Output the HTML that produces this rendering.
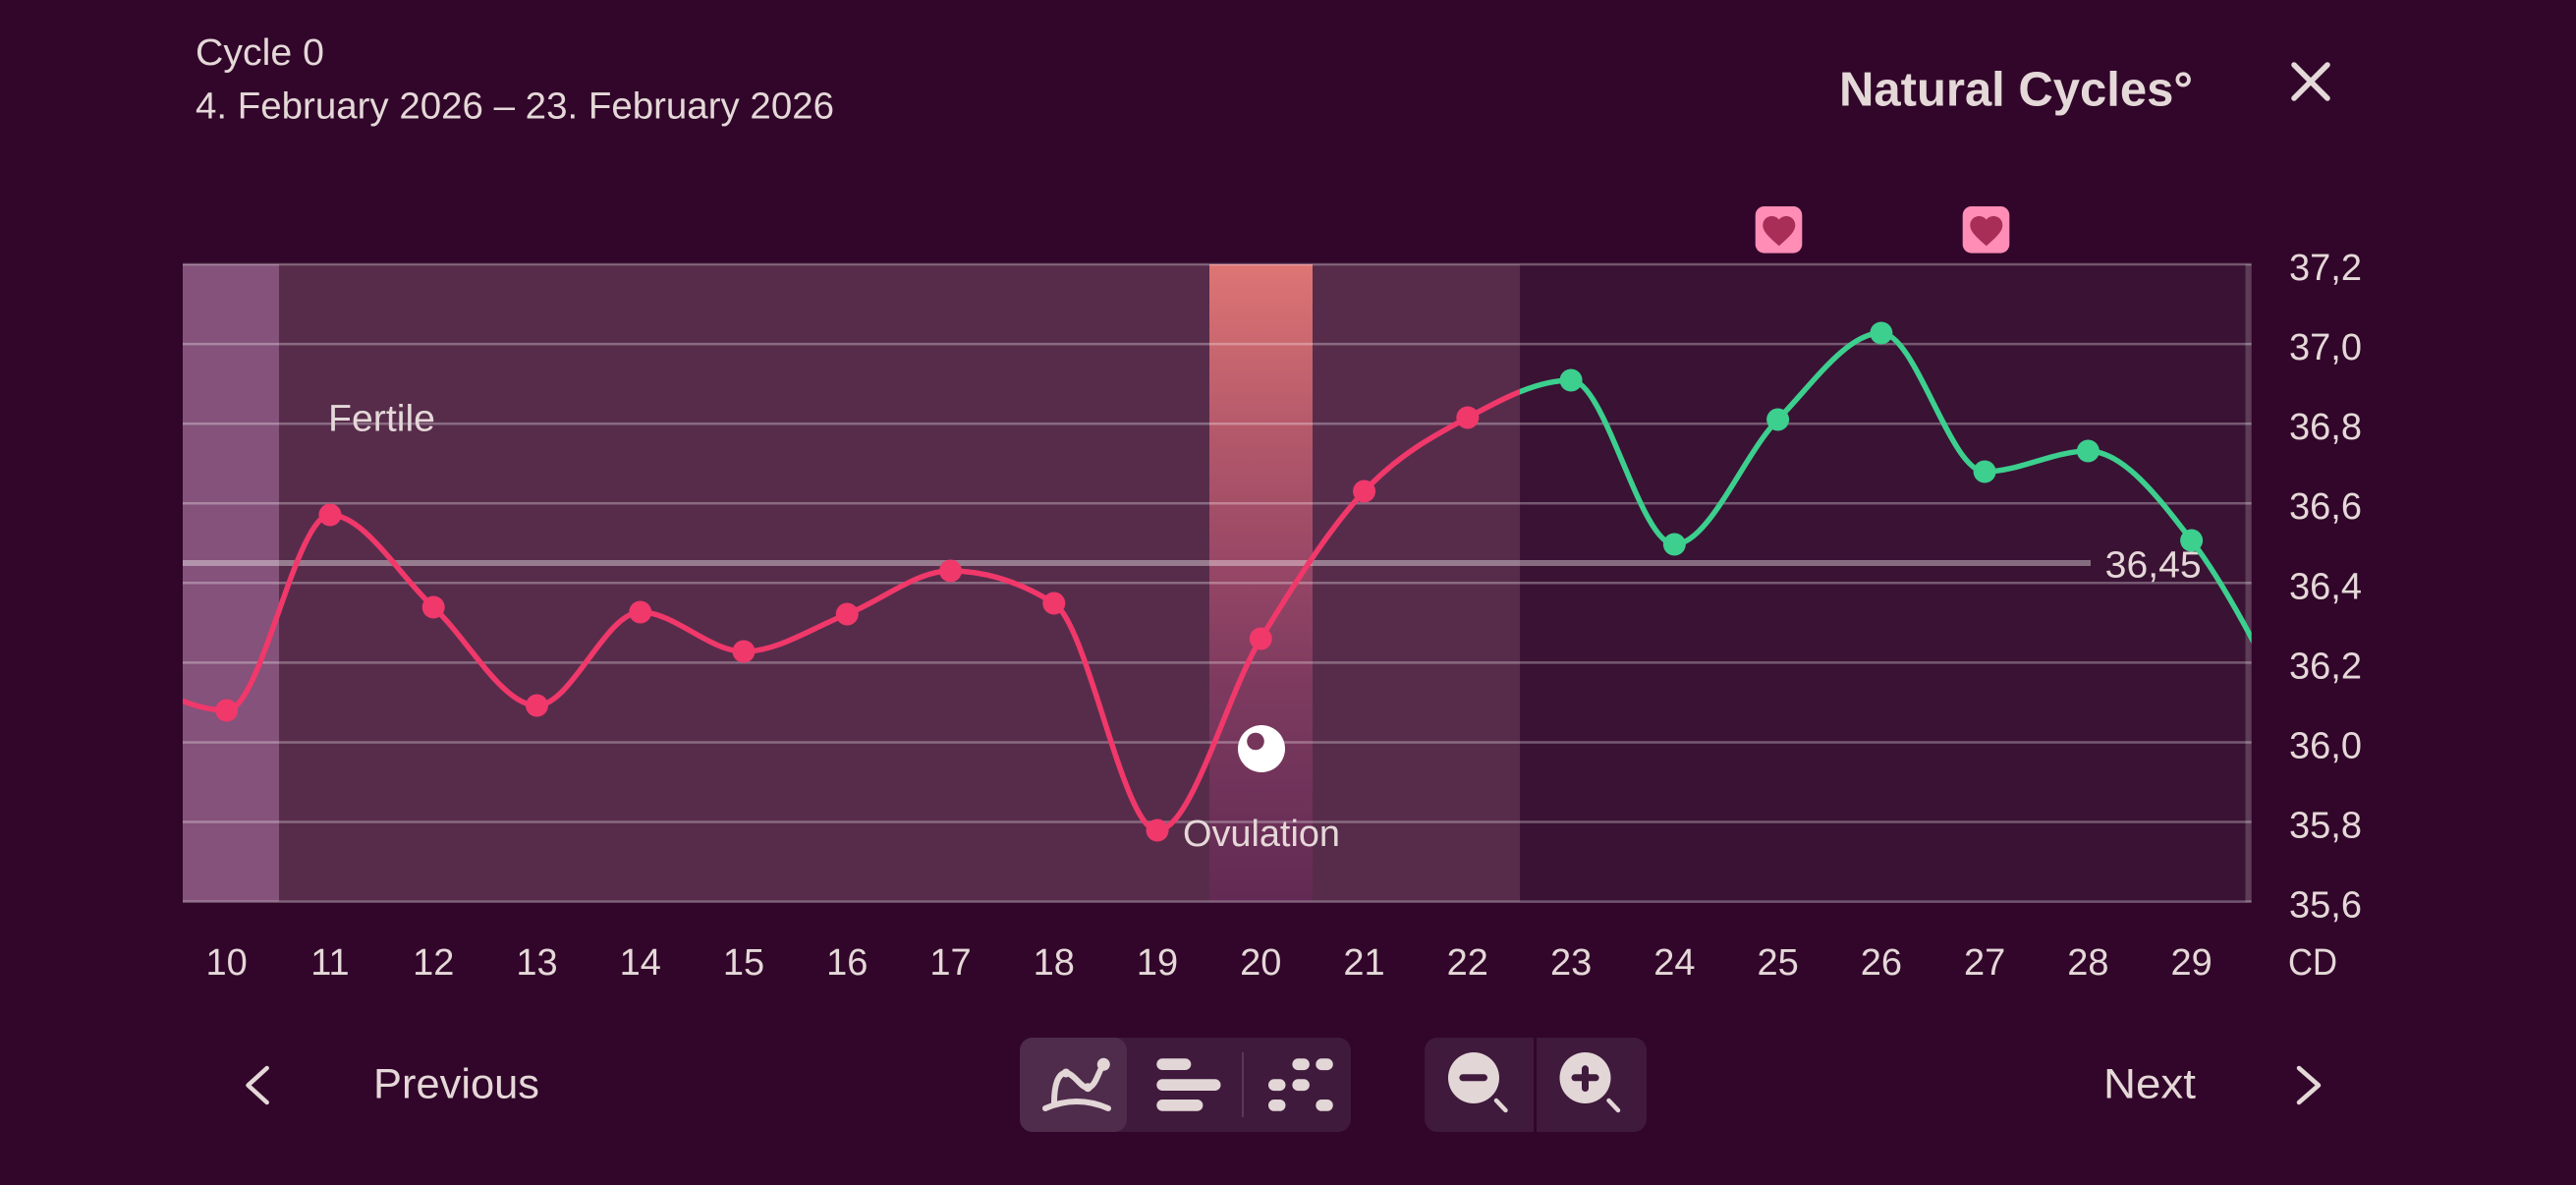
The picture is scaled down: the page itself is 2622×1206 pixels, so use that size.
<!DOCTYPE html>
<html>
<head>
<meta charset="utf-8">
<style>
  html,body{margin:0;padding:0;background:#31062a;overflow:hidden;}
  svg{display:block;}
  text{font-family:"Liberation Sans", sans-serif;fill:#e5d8d8;}
</style>
</head>
<body>
<svg width="2622" height="1206" viewBox="0 0 2622 1206" xmlns="http://www.w3.org/2000/svg">
  <defs>
    <linearGradient id="ovg" gradientUnits="userSpaceOnUse" x1="0" y1="269" x2="0" y2="918">
      <stop offset="0" stop-color="#de7574"/>
      <stop offset="0.25" stop-color="#b65a6b"/>
      <stop offset="0.47" stop-color="#984766"/>
      <stop offset="0.65" stop-color="#7e3b5f"/>
      <stop offset="1" stop-color="#622a54"/>
    </linearGradient>
    <clipPath id="plot"><rect x="186" y="260" width="2105.7" height="670"/></clipPath>
    <clipPath id="redc"><rect x="186" y="260" width="1361" height="670"/></clipPath>
    <clipPath id="greenc"><rect x="1547" y="260" width="744.7" height="670"/></clipPath>
  </defs>

  <rect x="0" y="0" width="2622" height="1206" fill="#31062a"/>

  <!-- header -->
  <text x="199" y="66" font-size="38" textLength="131" lengthAdjust="spacingAndGlyphs">Cycle 0</text>
  <text x="199" y="120.5" font-size="38" textLength="650" lengthAdjust="spacingAndGlyphs">4. February 2026 – 23. February 2026</text>
  <text x="1872" y="107.5" font-size="49" font-weight="bold" textLength="360" lengthAdjust="spacingAndGlyphs">Natural Cycles°</text>
  <g stroke="#e5d8d8" stroke-width="5.5" stroke-linecap="round">
    <line x1="2335" y1="66" x2="2369" y2="100"/>
    <line x1="2369" y1="66" x2="2335" y2="100"/>
  </g>

  <!-- hearts -->
  <rect x="1786.7" y="210" width="47.6" height="47.6" rx="9" fill="#ff8db6"/>
  <rect x="1997.7" y="210" width="47.6" height="47.6" rx="9" fill="#ff8db6"/>
  <path transform="translate(1791 215.05) scale(1.65)" fill="#a82e57" d="M12 21.35l-1.45-1.32C5.4 15.36 2 12.28 2 8.5 2 5.42 4.42 3 7.5 3c1.740 0 3.41.81 4.5 2.09C13.09 3.81 14.76 3 16.5 3 19.58 3 22 5.42 22 8.5c0 3.78-3.4 6.86-8.55 11.54L12 21.35z"/>
  <path transform="translate(2002 215.05) scale(1.65)" fill="#a82e57" d="M12 21.35l-1.45-1.32C5.4 15.36 2 12.28 2 8.5 2 5.42 4.42 3 7.5 3c1.74 0 3.41.81 4.5 2.09C13.09 3.81 14.76 3 16.5 3 19.58 3 22 5.42 22 8.5c0 3.78-3.4 6.86-8.55 11.54L12 21.35z"/>

  <!-- bands -->
  <rect x="186" y="269" width="98" height="648.6" fill="#84527a"/>
  <rect x="284" y="269" width="947" height="648.6" fill="#572c4b"/>
  <rect x="1231" y="269" width="105" height="648.6" fill="url(#ovg)"/>
  <rect x="1336" y="269" width="211" height="648.6" fill="#572c4b"/>
  <rect x="1547" y="269" width="744.7" height="648.6" fill="#3a1234"/>

  <!-- grid lines -->
  <g stroke="rgba(255,255,255,0.3)" stroke-width="2.5">
    <line x1="186" y1="269.0" x2="2291.7" y2="269.0"/>
    <line x1="186" y1="350.1" x2="2291.7" y2="350.1"/>
    <line x1="186" y1="431.2" x2="2291.7" y2="431.2"/>
    <line x1="186" y1="512.2" x2="2291.7" y2="512.2"/>
    <line x1="186" y1="593.3" x2="2291.7" y2="593.3"/>
    <line x1="186" y1="674.4" x2="2291.7" y2="674.4"/>
    <line x1="186" y1="755.5" x2="2291.7" y2="755.5"/>
    <line x1="186" y1="836.5" x2="2291.7" y2="836.5"/>
    <line x1="186" y1="917.6" x2="2291.7" y2="917.6"/>
  </g>
  <rect x="2285.5" y="269" width="6.2" height="649" fill="rgba(255,255,255,0.18)"/>

  <!-- threshold -->
  <rect x="186" y="570" width="1942" height="6" fill="rgba(255,255,255,0.38)"/>
  <text x="2142.7" y="587.3" font-size="38" textLength="98" lengthAdjust="spacingAndGlyphs">36,45</text>

  <!-- labels in plot -->
  <text x="334" y="438.5" font-size="38" textLength="109" lengthAdjust="spacingAndGlyphs">Fertile</text>
  <text x="1204" y="861" font-size="38" textLength="160" lengthAdjust="spacingAndGlyphs">Ovulation</text>

  <!-- ovulation egg -->
  <circle cx="1284" cy="762" r="24" fill="#ffffff"/>
  <circle cx="1278" cy="754.5" r="8.8" fill="url(#ovg)"/>

  <!-- curve -->
  <g clip-path="url(#plot)" fill="none" stroke-width="5.5" stroke-linecap="round" stroke-linejoin="round">
    <g clip-path="url(#redc)">
      <path stroke="#f0386b" d="M125.44,690 C160.53,701 195.61,723 230.70,723 C265.79,723 300.87,524 335.96,524 C371.05,524 406.13,585.67 441.22,618 C476.31,650.33 511.39,718 546.48,718 C581.57,718 616.65,623 651.74,623 C686.83,623 721.91,663 757.00,663 C792.09,663 827.17,638.67 862.26,625 C897.35,611.33 932.43,581 967.52,581 C1002.61,581 1037.69,592 1072.78,614 C1107.87,636 1142.95,845 1178.04,845 C1213.13,845 1248.21,707.5 1283.30,650 C1318.39,592.5 1353.47,537.5 1388.56,500 C1423.65,462.5 1458.73,443.83 1493.82,425 C1528.91,406.17 1563.99,387 1599.08,387 C1634.17,387 1669.25,554 1704.34,554 C1739.43,554 1774.51,462.83 1809.60,427 C1844.69,391.17 1879.77,339 1914.86,339 C1949.95,339 1985.03,480 2020.12,480 C2055.21,480 2090.29,459 2125.38,459 C2160.47,459 2195.55,504 2230.64,550 C2265.73,596 2300.81,665.5 2335.90,735"/>
    </g>
    <g clip-path="url(#greenc)">
      <path stroke="#3ccf8e" d="M125.44,690 C160.53,701 195.61,723 230.70,723 C265.79,723 300.87,524 335.96,524 C371.05,524 406.13,585.67 441.22,618 C476.31,650.33 511.39,718 546.48,718 C581.57,718 616.65,623 651.74,623 C686.83,623 721.91,663 757.00,663 C792.09,663 827.17,638.67 862.26,625 C897.35,611.33 932.43,581 967.52,581 C1002.61,581 1037.69,592 1072.78,614 C1107.87,636 1142.95,845 1178.04,845 C1213.13,845 1248.21,707.5 1283.30,650 C1318.39,592.5 1353.47,537.5 1388.56,500 C1423.65,462.5 1458.73,443.83 1493.82,425 C1528.91,406.17 1563.99,387 1599.08,387 C1634.17,387 1669.25,554 1704.34,554 C1739.43,554 1774.51,462.83 1809.60,427 C1844.69,391.17 1879.77,339 1914.86,339 C1949.95,339 1985.03,480 2020.12,480 C2055.21,480 2090.29,459 2125.38,459 C2160.47,459 2195.55,504 2230.64,550 C2265.73,596 2300.81,665.5 2335.90,735"/>
    </g>
  </g>

  <!-- dots -->
  <g fill="#f0386b">
    <circle cx="230.70" cy="723" r="11.5"/>
    <circle cx="335.96" cy="524" r="11.5"/>
    <circle cx="441.22" cy="618" r="11.5"/>
    <circle cx="546.48" cy="718" r="11.5"/>
    <circle cx="651.74" cy="623" r="11.5"/>
    <circle cx="757.00" cy="663" r="11.5"/>
    <circle cx="862.26" cy="625" r="11.5"/>
    <circle cx="967.52" cy="581" r="11.5"/>
    <circle cx="1072.78" cy="614" r="11.5"/>
    <circle cx="1178.04" cy="845" r="11.5"/>
    <circle cx="1283.30" cy="650" r="11.5"/>
    <circle cx="1388.56" cy="500" r="11.5"/>
    <circle cx="1493.82" cy="425" r="11.5"/>
  </g>
  <g fill="#3ccf8e">
    <circle cx="1599.08" cy="387" r="11.5"/>
    <circle cx="1704.34" cy="554" r="11.5"/>
    <circle cx="1809.60" cy="427" r="11.5"/>
    <circle cx="1914.86" cy="339" r="11.5"/>
    <circle cx="2020.12" cy="480" r="11.5"/>
    <circle cx="2125.38" cy="459" r="11.5"/>
    <circle cx="2230.64" cy="550" r="11.5"/>
  </g>

  <!-- y labels -->
  <g font-size="38">
    <text x="2330" y="285">37,2</text>
    <text x="2330" y="366.1">37,0</text>
    <text x="2330" y="447.2">36,8</text>
    <text x="2330" y="528.2">36,6</text>
    <text x="2330" y="609.3">36,4</text>
    <text x="2330" y="690.4">36,2</text>
    <text x="2330" y="771.5">36,0</text>
    <text x="2330" y="852.5">35,8</text>
    <text x="2330" y="933.6">35,6</text>
  </g>

  <!-- x labels -->
  <g font-size="38" text-anchor="middle">
    <text x="230.70" y="992">10</text>
    <text x="335.96" y="992">11</text>
    <text x="441.22" y="992">12</text>
    <text x="546.48" y="992">13</text>
    <text x="651.74" y="992">14</text>
    <text x="757.00" y="992">15</text>
    <text x="862.26" y="992">16</text>
    <text x="967.52" y="992">17</text>
    <text x="1072.78" y="992">18</text>
    <text x="1178.04" y="992">19</text>
    <text x="1283.30" y="992">20</text>
    <text x="1388.56" y="992">21</text>
    <text x="1493.82" y="992">22</text>
    <text x="1599.08" y="992">23</text>
    <text x="1704.34" y="992">24</text>
    <text x="1809.60" y="992">25</text>
    <text x="1914.86" y="992">26</text>
    <text x="2020.12" y="992">27</text>
    <text x="2125.38" y="992">28</text>
    <text x="2230.64" y="992">29</text>
  </g>
  <text x="2329" y="992" font-size="38" textLength="50" lengthAdjust="spacingAndGlyphs">CD</text>

  <!-- bottom nav -->
  <polyline points="271.7,1087 252.5,1104.5 271.7,1122" fill="none" stroke="#e5d8d8" stroke-width="4.5" stroke-linecap="round" stroke-linejoin="round"/>
  <text x="380" y="1117.6" font-size="43" textLength="169" lengthAdjust="spacingAndGlyphs">Previous</text>
  <text x="2141" y="1117.6" font-size="43" textLength="94" lengthAdjust="spacingAndGlyphs">Next</text>
  <polyline points="2340,1087 2360,1104.5 2340,1122" fill="none" stroke="#e5d8d8" stroke-width="4.5" stroke-linecap="round" stroke-linejoin="round"/>

  <!-- view switcher group -->
  <rect x="1038" y="1056" width="337" height="96" rx="13" fill="#3f1a3c"/>
  <rect x="1038" y="1056" width="109" height="96" rx="13" fill="#4f2b4c"/>
  <rect x="1264" y="1071" width="2" height="66" fill="#5b3858"/>
  <!-- line chart icon -->
  <g fill="none" stroke="#e2d6d6" stroke-width="6" stroke-linecap="round" stroke-linejoin="round">
    <path d="M1073,1122 C1073,1104 1077,1092 1085,1092 C1093,1092 1100,1107 1107,1107 C1115,1107 1118,1090 1123,1084"/>
    <path d="M1064,1128 Q1096,1114 1128,1128"/>
  </g>
  <circle cx="1123.3" cy="1083.3" r="6.5" fill="#e2d6d6"/>
  <circle cx="1085" cy="1092" r="4.5" fill="#e2d6d6"/>
  <circle cx="1107.3" cy="1106.7" r="4.5" fill="#e2d6d6"/>
  <!-- bars icon -->
  <g fill="#e2d6d6">
    <rect x="1177.3" y="1077.3" width="35" height="11.7" rx="5.85"/>
    <rect x="1177.3" y="1098.3" width="65.2" height="11.7" rx="5.85"/>
    <rect x="1177.3" y="1119" width="47.1" height="11.7" rx="5.85"/>
  </g>
  <!-- dots icon -->
  <g fill="#e2d6d6">
    <rect x="1315.4" y="1077.3" width="17.5" height="11.8" rx="5.9"/>
    <rect x="1339.3" y="1077.3" width="17.5" height="11.8" rx="5.9"/>
    <rect x="1291" y="1098.3" width="17.5" height="11.8" rx="5.9"/>
    <rect x="1315.4" y="1098.3" width="17.5" height="11.8" rx="5.9"/>
    <rect x="1291" y="1119" width="17.5" height="11.8" rx="5.9"/>
    <rect x="1339.3" y="1119" width="17.5" height="11.8" rx="5.9"/>
  </g>

  <!-- zoom group -->
  <rect x="1450" y="1056" width="226" height="96" rx="13" fill="#3f1a3c"/>
  <rect x="1561" y="1056" width="3" height="96" fill="#31062a"/>
  <circle cx="1500" cy="1097" r="26" fill="#e2d6d6"/>
  <rect x="1485.4" y="1093.3" width="28.6" height="7" rx="3.5" fill="#3f1a3c"/>
  <line x1="1523" y1="1120" x2="1532.5" y2="1130" stroke="#e2d6d6" stroke-width="4.5" stroke-linecap="round"/>
  <circle cx="1613.5" cy="1097" r="26" fill="#e2d6d6"/>
  <rect x="1599.5" y="1093.3" width="28.1" height="7" rx="3.5" fill="#3f1a3c"/>
  <rect x="1610" y="1084.3" width="7" height="26.7" rx="3.5" fill="#3f1a3c"/>
  <line x1="1637.5" y1="1120" x2="1647" y2="1130" stroke="#e2d6d6" stroke-width="4.5" stroke-linecap="round"/>
</svg>
</body>
</html>
